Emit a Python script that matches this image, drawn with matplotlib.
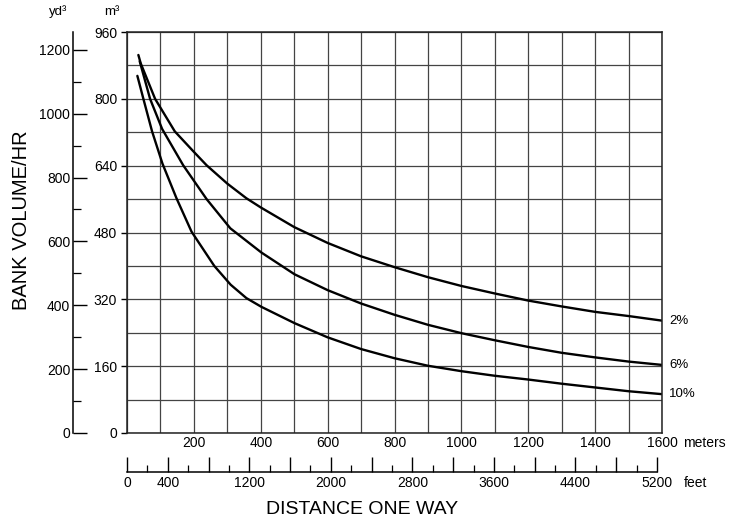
import matplotlib

matplotlib.use("Agg")
import matplotlib.pyplot as plt
from matplotlib.ticker import FixedLocator, MultipleLocator, NullFormatter

plt.rcParams["font.family"] = ["Liberation Sans", "DejaVu Sans"]

M3_PER_YD3 = 0.764555
FT_PER_M = 1.0 / 0.3048

# distance one way [m] vs bank volume per hour [m^3]
dist_2 = [34, 41, 84, 143, 200, 238, 300, 357, 400, 500, 600, 700, 800,
          900, 1000, 1100, 1200, 1300, 1400, 1500, 1600]
vol_2 = [905, 885, 800, 722, 673, 641, 597, 562, 540, 493, 455, 423, 397,
         373, 352, 334, 317, 303, 290, 280, 269]

dist_6 = [38, 69, 105, 168, 238, 309, 402, 501, 600, 700, 800, 900,
          1000, 1100, 1200, 1300, 1400, 1500, 1600]
vol_6 = [890, 800, 728, 641, 560, 490, 432, 380, 342, 310, 283, 259,
         239, 222, 206, 192, 181, 171, 163]

dist_10 = [31, 49, 75, 106, 148, 193, 261, 310, 357, 402, 501, 600, 700, 800,
           900, 1000, 1100, 1200, 1300, 1400, 1500, 1600]
vol_10 = [855, 800, 722, 645, 562, 482, 400, 355, 323, 302, 263, 229, 201, 179,
          161, 148, 137, 128, 118, 109, 100, 93]

series = [("2%", dist_2, vol_2), ("6%", dist_6, vol_6), ("10%", dist_10, vol_10)]

m_ticks = [200, 400, 600, 800, 1000, 1200, 1400, 1600]
m3_ticks = [0, 160, 320, 480, 640, 800, 960]
yd3_ticks = [0, 200, 400, 600, 800, 1000, 1200]
ft_labels = [0, 400, 1200, 2000, 2800, 3600, 4400, 5200]

W, H = 737, 524
fig = plt.figure(figsize=(W / 100, H / 100), dpi=100)


def rect(x0, y0, x1, y1):
    return [x0 / W, 1 - y1 / H, (x1 - x0) / W, (y1 - y0) / H]


ax = fig.add_axes(rect(127, 32, 662, 433))
ax.set_xlim(0, 1600)
ax.set_ylim(0, 960)
ax.xaxis.set_major_locator(FixedLocator(m_ticks))
ax.xaxis.set_minor_locator(MultipleLocator(100))
ax.yaxis.set_major_locator(FixedLocator(m3_ticks))
ax.yaxis.set_minor_locator(MultipleLocator(80))
ax.grid(True, which="both", color="#444444", lw=0.9)
ax.tick_params(axis="x", which="both", length=0, pad=2.5, labelsize=10)
ax.tick_params(axis="y", which="major", length=4, width=1, pad=3, labelsize=10)
ax.tick_params(axis="y", which="minor", length=0)
for sp in ax.spines.values():
    sp.set_color("#222222")
    sp.set_linewidth(1.1)

for name, d, v in series:
    ax.plot(d, v, color="black", lw=1.7, solid_capstyle="round")
    ax.annotate(name, xy=(d[-1], v[-1]), xytext=(5, 0), textcoords="offset points",
                va="center", ha="left", fontsize=9.5)

ax.text((683 - 127) / 535, -0.008, "meters", transform=ax.transAxes,
        fontsize=10, ha="left", va="top")

# cubic yards scale on the far left
ay = fig.add_axes(rect(73, 32, 74, 433))
ay.set_ylim(0, 960 / M3_PER_YD3)
ay.set_xticks([])
ay.yaxis.set_major_locator(FixedLocator(yd3_ticks))
ay.yaxis.set_minor_locator(MultipleLocator(100))
ay.yaxis.set_minor_formatter(NullFormatter())
ay.tick_params(axis="y", which="major", direction="in", length=10, width=1,
               pad=2, labelsize=10)
ay.tick_params(axis="y", which="minor", direction="in", length=6, width=0.9)
for s in ("top", "right", "bottom"):
    ay.spines[s].set_visible(False)
ay.spines["left"].set_linewidth(1.1)
ay.patch.set_visible(False)

# feet scale under the meters scale
af = fig.add_axes(rect(127, 400, 662, 472))
af.set_xlim(0, 1600 * FT_PER_M)
af.set_yticks([])
af.xaxis.set_major_locator(MultipleLocator(400))
af.xaxis.set_minor_locator(MultipleLocator(200))
af.xaxis.set_major_formatter(
    lambda val, pos: f"{val:.0f}" if round(val) in ft_labels else "")
af.tick_params(axis="x", which="major", direction="in", length=11, width=1,
               pad=3, labelsize=10)
af.tick_params(axis="x", which="minor", direction="in", length=5, width=0.9)
for s in ("top", "right", "left"):
    af.spines[s].set_visible(False)
af.spines["bottom"].set_bounds(0, 5200)
af.spines["bottom"].set_linewidth(1.1)
af.patch.set_visible(False)
af.text((684 - 127) / 535, -0.05, "feet", transform=af.transAxes,
        fontsize=10, ha="left", va="top")

fig.text(58 / W, 1 - 12 / H, "yd³", fontsize=9.5, ha="center", va="center")
fig.text(112 / W, 1 - 12 / H, "m³", fontsize=9.5, ha="center", va="center")
fig.text(22 / W, 1 - 220 / H, "BANK VOLUME/HR", rotation=90, fontsize=14.5,
         ha="center", va="center")
fig.text(362 / W, 1 - 510 / H, "DISTANCE ONE WAY", fontsize=14,
         ha="center", va="center")

fig.savefig("out.png", dpi=100)
